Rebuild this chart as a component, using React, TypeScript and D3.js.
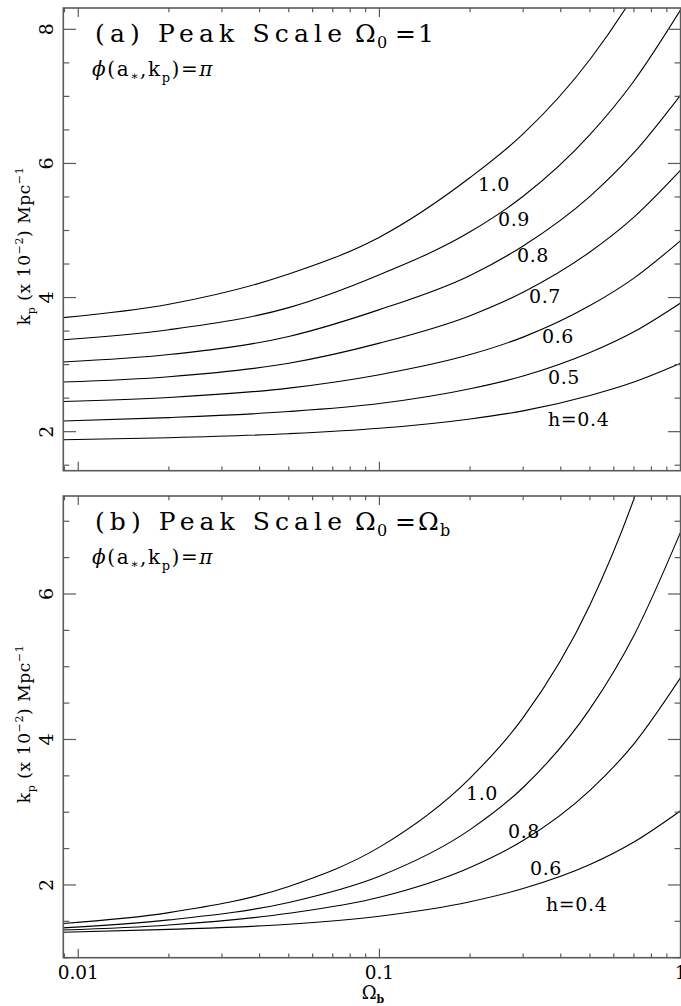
import React from 'react';
import * as d3 from 'd3';

// ---------------- data ----------------
const omegaB = [0.0089, 0.02, 0.05, 0.1, 0.2, 0.3, 0.5, 0.7, 1.0];

// panel (a): Omega_0 = 1
const kA_h10 = [3.70, 3.90, 4.35, 4.90, 5.79, 6.44, 7.55, 8.51, 9.76];
const kA_h09 = [3.37, 3.52, 3.85, 4.34, 4.98, 5.51, 6.43, 7.23, 8.29];
const kA_h08 = [3.04, 3.15, 3.42, 3.82, 4.33, 4.77, 5.51, 6.16, 7.02];
const kA_h07 = [2.74, 2.82, 3.02, 3.32, 3.73, 4.08, 4.68, 5.20, 5.90];
const kA_h06 = [2.45, 2.51, 2.65, 2.85, 3.15, 3.41, 3.88, 4.29, 4.85];
const kA_h05 = [2.16, 2.21, 2.30, 2.42, 2.64, 2.83, 3.18, 3.49, 3.92];
const kA_h04 = [1.88, 1.91, 1.97, 2.05, 2.19, 2.31, 2.54, 2.74, 3.02];
const labelsA = ['1.0', '0.9', '0.8', '0.7', '0.6', '0.5', 'h=0.4'];

// panel (b): Omega_0 = Omega_b
const kB_h10 = [1.47, 1.62, 1.98, 2.52, 3.47, 4.30, 5.85, 7.31, 9.37];
const kB_h08 = [1.41, 1.52, 1.76, 2.12, 2.76, 3.34, 4.42, 5.43, 6.85];
const kB_h06 = [1.38, 1.45, 1.61, 1.83, 2.24, 2.61, 3.30, 3.94, 4.85];
const kB_h04 = [1.35, 1.39, 1.46, 1.57, 1.77, 1.95, 2.28, 2.59, 3.02];
const labelsB = ['1.0', '0.8', '0.6', 'h=0.4'];

const yTicksA = [2, 4, 6, 8];
const yTicksB = [2, 4, 6];
const xTickValues = [0.01, 0.1, 1];
const xTickLabels = ['0.01', '0.1', '1'];

// ---------------- layout ----------------
const W = 681;
const H = 1006;
const X0 = 63.3;
const X1 = 680.6;
const AXIS = '#5a5a5a';
const FONT = "'DejaVu Serif', 'Liberation Serif', serif";

const xScale = d3.scaleLog().domain([0.00892, 1]).range([X0, X1]);

type PanelProps = {
  id: string;
  top: number;
  bottom: number;
  yDomain: [number, number];
  series: number[][];
  labels: string[];
  labelPos: [number, number][];
  yTicks: number[];
  letter: string;
  rhs: React.ReactNode;
  yLabelCenter: number;
  showXLabels: boolean;
};

function Panel(p: PanelProps) {
  const y = d3.scaleLinear().domain(p.yDomain).range([p.bottom, p.top]);
  const line = d3
    .line<[number, number]>()
    .x((d) => xScale(d[0]))
    .y((d) => y(d[1]))
    .curve(d3.curveMonotoneX);

  const xt: { v: number; major: boolean }[] = [];
  for (let e = -3; e <= 0; e++) {
    for (let m = 1; m <= 9; m++) {
      const v = m * Math.pow(10, e);
      if (v >= 0.00892 && v <= 1.0001) xt.push({ v, major: m === 1 });
    }
  }
  const yt: { v: number; major: boolean }[] = [];
  for (let v = 1; v <= 9; v += 0.5) {
    if (v >= p.yDomain[0] && v <= p.yDomain[1]) yt.push({ v, major: p.yTicks.includes(v) });
  }

  const clipId = `clip-${p.id}`;
  const tY = p.top + 34;
  const sY = p.top + 68;
  return (
    <g>
      <defs>
        <clipPath id={clipId}>
          <rect x={X0} y={p.top} width={X1 - X0} height={p.bottom - p.top} />
        </clipPath>
      </defs>
      <g clipPath={`url(#${clipId})`}>
        {p.series.map((s, i) => (
          <path
            key={i}
            d={line(omegaB.map((o, j) => [o, s[j]] as [number, number])) || ''}
            fill="none"
            stroke="#000"
            strokeWidth={1.1}
          />
        ))}
      </g>
      <rect x={X0} y={p.top} width={X1 - X0} height={p.bottom - p.top} fill="none" stroke={AXIS} strokeWidth={1.6} />
      {xt.map((t, i) => {
        const x = xScale(t.v);
        const len = t.major ? 9 : 4.3;
        return (
          <g key={'xt' + i}>
            <line x1={x} x2={x} y1={p.bottom} y2={p.bottom - len} stroke={AXIS} strokeWidth={1.2} />
            <line x1={x} x2={x} y1={p.top} y2={p.top + len} stroke={AXIS} strokeWidth={1.2} />
          </g>
        );
      })}
      {yt.map((t, i) => {
        const yy = y(t.v);
        const len = t.major ? 12.7 : 6;
        return (
          <g key={'yt' + i}>
            <line x1={X0} x2={X0 + len} y1={yy} y2={yy} stroke={AXIS} strokeWidth={1.2} />
            <line x1={X1} x2={X1 - len} y1={yy} y2={yy} stroke={AXIS} strokeWidth={1.2} />
          </g>
        );
      })}
      {p.yTicks.map((v) => (
        <text
          key={'yl' + v}
          transform={`translate(52.5, ${y(v)}) rotate(-90)`}
          textAnchor="middle"
          fontFamily={FONT}
          fontSize={19}
          fill="#000"
        >
          {v}
        </text>
      ))}
      {p.showXLabels &&
        xTickValues.map((v, i) => (
          <text
            key={'xl' + v}
            x={xScale(v)}
            y={p.bottom + 21.5}
            textAnchor="middle"
            fontFamily={FONT}
            fontSize={18.5}
            fill="#000"
          >
            {xTickLabels[i]}
          </text>
        ))}
      {/* y axis label */}
      <text
        transform={`translate(30, ${p.yLabelCenter}) rotate(-90)`}
        textAnchor="middle"
        fontFamily={FONT}
        fontSize={17}
        letterSpacing={0.6}
        fill="#000"
      >
        k<tspan fontSize={11} dy={5}>p</tspan>
        <tspan dy={-5}> (x 10</tspan>
        <tspan fontSize={11} dy={-7}>−2</tspan>
        <tspan dy={7}>) Mpc</tspan>
        <tspan fontSize={11} dy={-7}>−1</tspan>
      </text>
      {/* title */}
      <text x={95} y={tY} fontFamily={FONT} fontSize={25} textLength={247} lengthAdjust="spacing" fill="#000">
        {`(${p.letter}) Peak Scale`}
      </text>
      <text x={355} y={tY} fontFamily={FONT} fontSize={25} fill="#000">
        Ω
      </text>
      <text x={377} y={tY + 6} fontFamily={FONT} fontSize={16} fill="#000">
        0
      </text>
      <text x={395} y={tY} fontFamily={FONT} fontSize={25} fill="#000">
        =
      </text>
      {p.rhs}
      {/* second line */}
      <text x={92} y={sY} fontFamily={FONT} fontSize={20} letterSpacing={1.6} fill="#000">
        <tspan fontStyle="italic">ϕ</tspan>(a
        <tspan fontSize={12} dy={4}>∗</tspan>
        <tspan dy={-4}>,k</tspan>
        <tspan fontSize={13} dy={6}>p</tspan>
        <tspan dy={-6}>)=</tspan>
        <tspan fontStyle="italic">π</tspan>
      </text>
      {p.labels.map((l, i) => (
        <text
          key={'cl' + i}
          x={p.labelPos[i][0]}
          y={p.labelPos[i][1]}
          fontFamily={FONT}
          fontSize={19}
          letterSpacing={0.6}
          fill="#000"
        >
          {l}
        </text>
      ))}
    </g>
  );
}

export default function App() {
  return (
    <svg
      width={W}
      height={H}
      viewBox={`0 0 ${W} ${H}`}
      style={{ position: 'absolute', left: 0, top: 0, background: '#fff' }}
    >
      <rect x={0} y={0} width={W} height={H} fill="#fff" />
      <Panel
        id="a"
        top={8}
        bottom={470.7}
        yDomain={[1.418, 8.318]}
        series={[kA_h10, kA_h09, kA_h08, kA_h07, kA_h06, kA_h05, kA_h04]}
        labels={labelsA}
        labelPos={[
          [478, 190.7],
          [498, 226],
          [517, 261.7],
          [529, 303.3],
          [542, 342.7],
          [548, 384.3],
          [548, 426],
        ]}
        yTicks={yTicksA}
        letter="a"
        rhs={
          <text x={418} y={42} fontFamily={FONT} fontSize={25} fill="#000">
            1
          </text>
        }
        yLabelCenter={246}
        showXLabels={false}
      />
      <Panel
        id="b"
        top={496}
        bottom={957.7}
        yDomain={[1.0, 7.347]}
        series={[kB_h10, kB_h08, kB_h06, kB_h04]}
        labels={labelsB}
        labelPos={[
          [466, 800],
          [508, 838],
          [530, 875],
          [546, 911],
        ]}
        yTicks={yTicksB}
        letter="b"
        rhs={
          <g>
            <text x={418} y={530} fontFamily={FONT} fontSize={25} fill="#000">
              Ω
            </text>
            <text x={440} y={536} fontFamily={FONT} fontSize={16} fill="#000">
              b
            </text>
          </g>
        }
        yLabelCenter={724}
        showXLabels={true}
      />
      <text x={373} y={999} textAnchor="middle" fontFamily={FONT} fontSize={18} fill="#000">
        Ω<tspan fontSize={11} fontWeight="bold" dy={4}>b</tspan>
      </text>
    </svg>
  );
}
